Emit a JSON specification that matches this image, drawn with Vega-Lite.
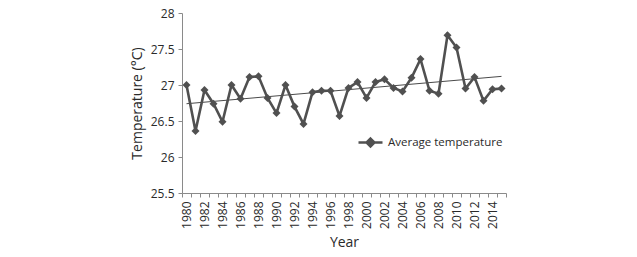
{
  "$schema": "https://vega.github.io/schema/vega-lite/v6.json",
  "width": 324,
  "height": 180,
  "autosize": "none",
  "padding": {"left": 182, "top": 13, "right": 131, "bottom": 64},
  "background": "white",
  "config": {
    "view": {"stroke": null},
    "font": "Open Sans",
    "axis": {"grid": false, "domainColor": "#8a8a8a", "tickColor": "#8a8a8a", "labelColor": "#2a2a2a", "titleColor": "#2a2a2a", "labelFont": "Open Sans", "titleFont": "Open Sans", "titleFontWeight": "normal", "labelOverlap": false},
    "axisY": {"labelOverlap": false, "labelBound": false, "labelFlush": false}
  },
  "datasets": {
    "temps": [
      {"year": 1980, "temp": 27.0, "series": "Average temperature"},
      {"year": 1981, "temp": 26.36, "series": "Average temperature"},
      {"year": 1982, "temp": 26.93, "series": "Average temperature"},
      {"year": 1983, "temp": 26.74, "series": "Average temperature"},
      {"year": 1984, "temp": 26.49, "series": "Average temperature"},
      {"year": 1985, "temp": 27.0, "series": "Average temperature"},
      {"year": 1986, "temp": 26.81, "series": "Average temperature"},
      {"year": 1987, "temp": 27.11, "series": "Average temperature"},
      {"year": 1988, "temp": 27.12, "series": "Average temperature"},
      {"year": 1989, "temp": 26.82, "series": "Average temperature"},
      {"year": 1990, "temp": 26.61, "series": "Average temperature"},
      {"year": 1991, "temp": 27.0, "series": "Average temperature"},
      {"year": 1992, "temp": 26.7, "series": "Average temperature"},
      {"year": 1993, "temp": 26.46, "series": "Average temperature"},
      {"year": 1994, "temp": 26.9, "series": "Average temperature"},
      {"year": 1995, "temp": 26.92, "series": "Average temperature"},
      {"year": 1996, "temp": 26.92, "series": "Average temperature"},
      {"year": 1997, "temp": 26.57, "series": "Average temperature"},
      {"year": 1998, "temp": 26.96, "series": "Average temperature"},
      {"year": 1999, "temp": 27.04, "series": "Average temperature"},
      {"year": 2000, "temp": 26.82, "series": "Average temperature"},
      {"year": 2001, "temp": 27.04, "series": "Average temperature"},
      {"year": 2002, "temp": 27.08, "series": "Average temperature"},
      {"year": 2003, "temp": 26.96, "series": "Average temperature"},
      {"year": 2004, "temp": 26.91, "series": "Average temperature"},
      {"year": 2005, "temp": 27.1, "series": "Average temperature"},
      {"year": 2006, "temp": 27.36, "series": "Average temperature"},
      {"year": 2007, "temp": 26.92, "series": "Average temperature"},
      {"year": 2008, "temp": 26.88, "series": "Average temperature"},
      {"year": 2009, "temp": 27.69, "series": "Average temperature"},
      {"year": 2010, "temp": 27.52, "series": "Average temperature"},
      {"year": 2011, "temp": 26.95, "series": "Average temperature"},
      {"year": 2012, "temp": 27.11, "series": "Average temperature"},
      {"year": 2013, "temp": 26.78, "series": "Average temperature"},
      {"year": 2014, "temp": 26.94, "series": "Average temperature"},
      {"year": 2015, "temp": 26.95, "series": "Average temperature"}
    ],
    "trend": [
      {"year": 1980, "temp": 26.74},
      {"year": 2015, "temp": 27.12}
    ]
  },
  "encoding": {
    "x": {
      "field": "year", "type": "ordinal", "bandPosition": 0.5,
      "scale": {"type": "band", "paddingInner": 0, "paddingOuter": 0},
      "axis": {
        "title": "Year", "titleFontSize": 14, "titlePadding": 7,
        "labelAngle": -90, "labelFontSize": 12, "labelPadding": 4,
        "labelExpr": "datum.value % 2 == 0 ? datum.label : ''",
        "tickBand": "extent", "tickSize": 4
      }
    },
    "y": {
      "field": "temp", "type": "quantitative",
      "scale": {"domain": [25.5, 28], "nice": false, "zero": false},
      "axis": {
        "title": "Temperature (°C)", "titleFontSize": 14, "titlePadding": 6,
        "values": [25.5, 26, 26.5, 27, 27.5, 28],
        "labelExpr": "format(datum.value, '.1~f')",
        "labelFontSize": 12, "tickSize": 4, "labelPadding": 4
      }
    }
  },
  "layer": [
    {
      "data": {"name": "trend"},
      "mark": {"type": "line", "color": "#4a4a4a", "strokeWidth": 1}
    },
    {
      "data": {"name": "temps"},
      "mark": {"type": "line", "strokeWidth": 2.6, "point": {"shape": "diamond", "size": 64, "filled": true, "opacity": 1}},
      "encoding": {
        "color": {
          "field": "series", "type": "nominal",
          "scale": {"range": ["#505050"]},
          "legend": {
            "title": null, "orient": "none", "legendX": 175, "legendY": 116,
            "symbolType": "M-1,0H1M0,-0.33L0.33,0L0,0.33L-0.33,0Z",
            "symbolSize": 576, "symbolStrokeWidth": 2.5, "symbolFillColor": "#505050", "symbolStrokeColor": "#505050",
            "labelFontSize": 11.5, "labelColor": "#2a2a2a", "labelFont": "Open Sans", "labelOffset": 4
          }
        }
      }
    }
  ]
}
